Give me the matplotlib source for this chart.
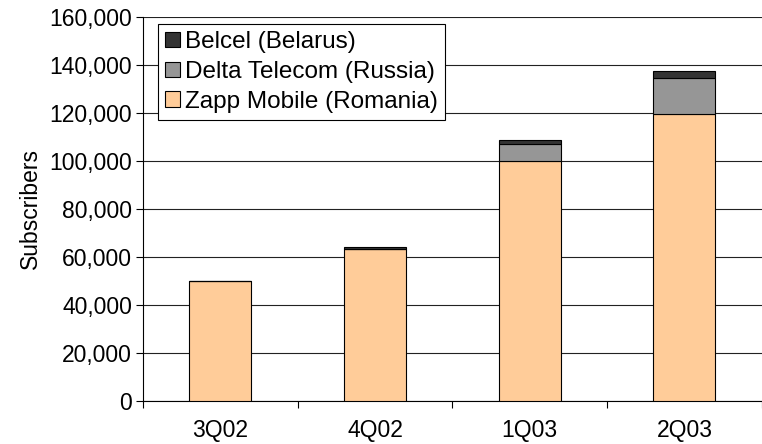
import matplotlib.pyplot as plt
import numpy as np
from matplotlib.ticker import FuncFormatter, FixedLocator

plt.rcParams['font.family'] = ['Liberation Sans', 'DejaVu Sans']

quarters = ['3Q02', '4Q02', '1Q03', '2Q03']
zapp = [50000, 63200, 100000, 119500]
delta = [0, 0, 7200, 15000]
belcel = [0, 900, 1500, 2800]

ind = np.arange(len(quarters))
bar_width = 0.4
fs = 16.5

fig = plt.figure(figsize=(7.62, 4.44), dpi=100)
ax = fig.add_axes([0.1877, 0.0968, 0.812, 0.865])

ax.bar(ind, zapp, bar_width, color='#FFCC99', edgecolor='black', linewidth=0.8,
       label='Zapp Mobile (Romania)', zorder=3)
ax.bar(ind, delta, bar_width, bottom=zapp, color='#969696', edgecolor='black',
       linewidth=0.8, label='Delta Telecom (Russia)', zorder=3)
bottom2 = np.array(zapp) + np.array(delta)
ax.bar(ind, belcel, bar_width, bottom=bottom2, color='#333333', edgecolor='black',
       linewidth=0.8, label='Belcel (Belarus)', zorder=3)

ax.set_xlim(-0.5, 3.5)
ax.set_ylim(0, 160000)
ax.set_yticks(np.arange(0, 160001, 20000))
ax.yaxis.set_major_formatter(FuncFormatter(lambda v, p: f'{int(v):,}'))
ax.grid(axis='y', color='#222222', linewidth=0.8, zorder=0)

ax.set_xticks(ind)
ax.set_xticklabels(quarters)
ax.xaxis.set_minor_locator(FixedLocator([-0.5, 0.5, 1.5, 2.5, 3.5]))
ax.tick_params(axis='x', which='major', length=0, pad=13, labelsize=fs)
ax.tick_params(axis='x', which='minor', length=5, width=0.8, direction='out')
ax.tick_params(axis='y', length=5, width=0.8, labelsize=fs, pad=3)

for s in ['top', 'right']:
    ax.spines[s].set_visible(False)
ax.spines['left'].set_linewidth(0.8)
ax.spines['bottom'].set_linewidth(0.8)

ax.set_ylabel('Subscribers', fontsize=fs, labelpad=5)

handles, labels = ax.get_legend_handles_labels()
leg = ax.legend(handles[::-1], labels[::-1], loc='upper left',
                bbox_to_anchor=(0.024, 0.982), fontsize=17.5, frameon=True,
                fancybox=False, edgecolor='black', framealpha=1,
                handlelength=0.6, handleheight=0.6, handletextpad=0.2,
                borderpad=0.3, labelspacing=0.32, borderaxespad=0)
leg.get_frame().set_linewidth(0.8)

plt.savefig('out.png', dpi=100)
plt.close('all')
